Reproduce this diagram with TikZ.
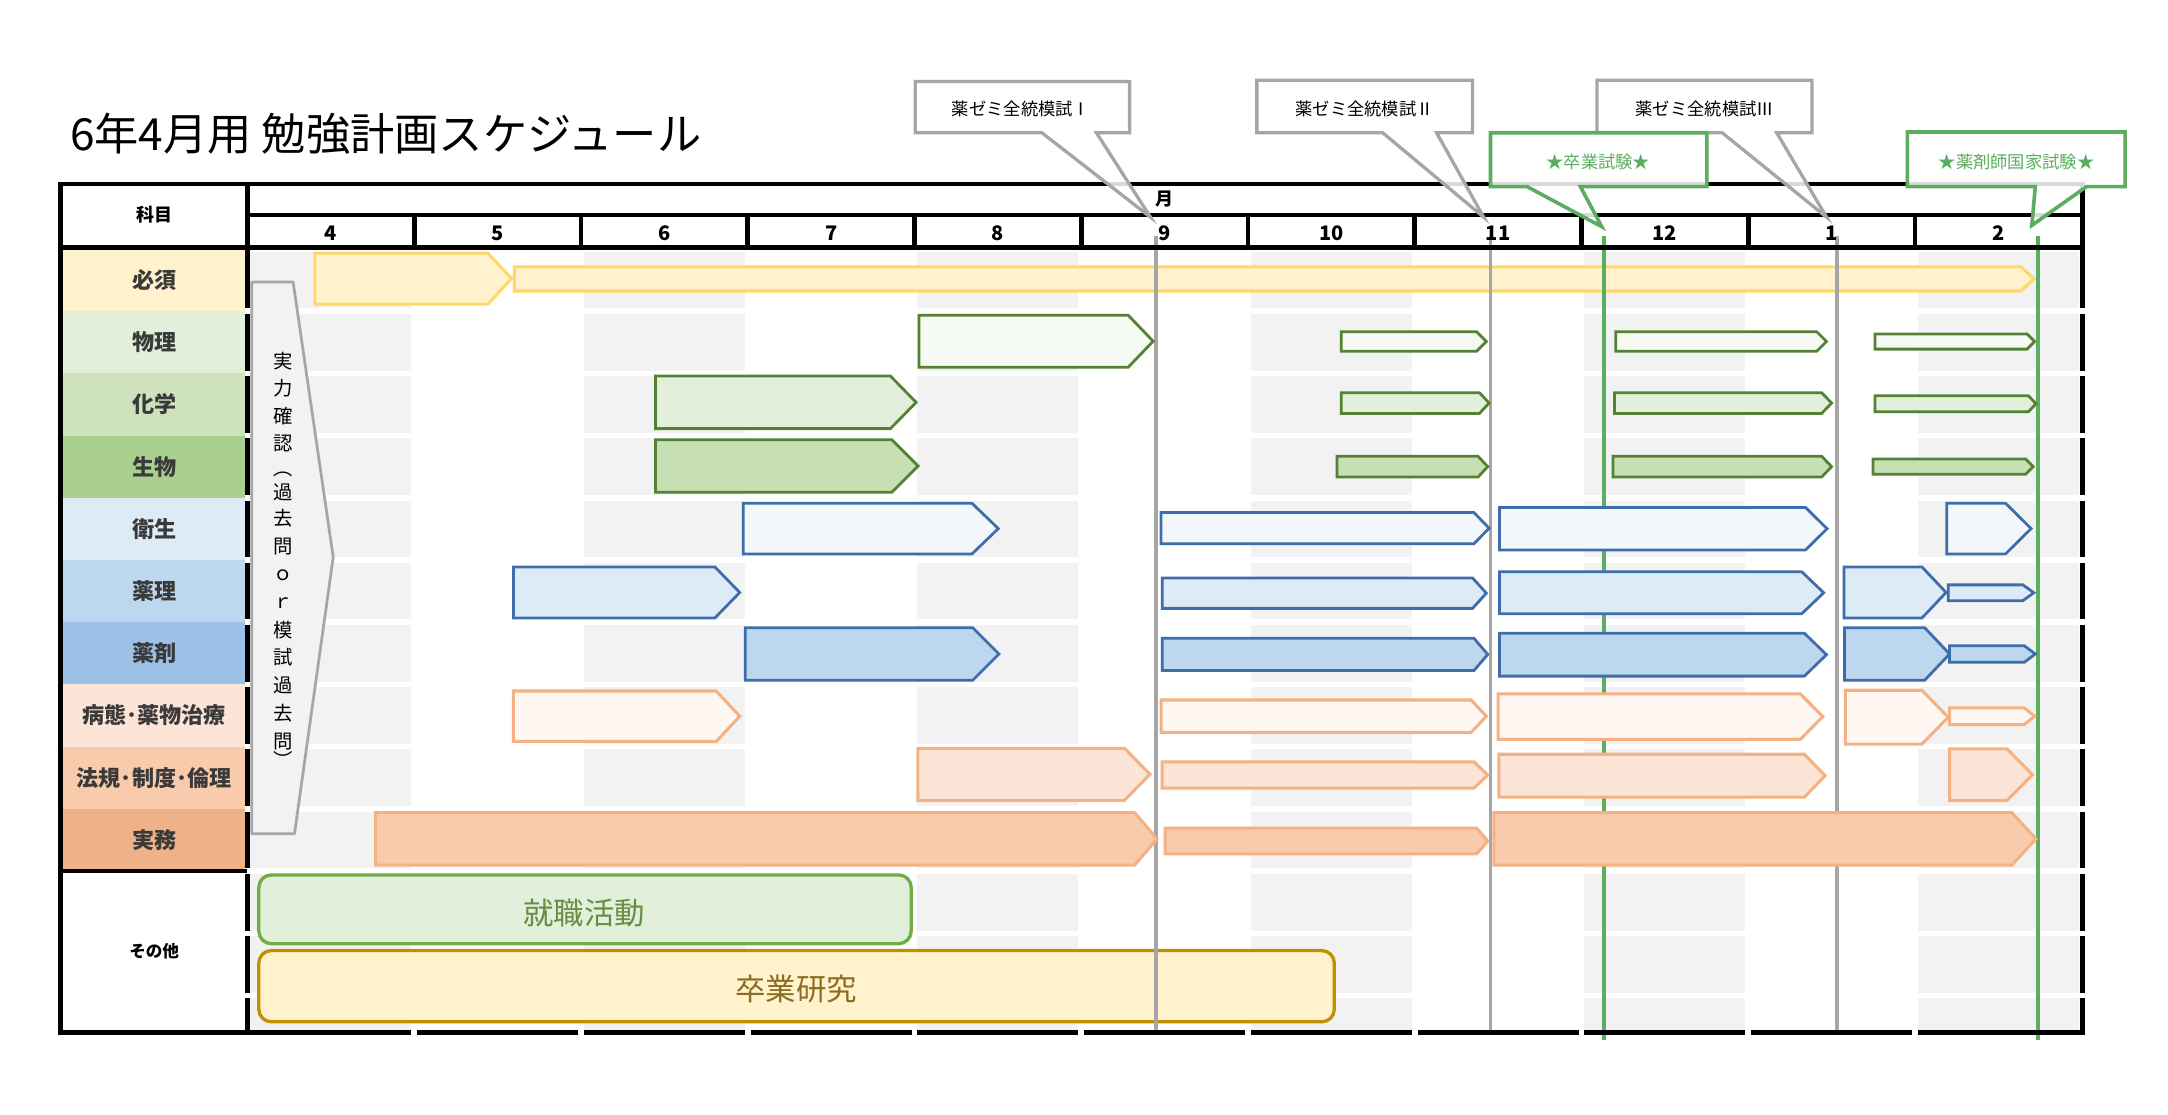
\documentclass[tikz,border=0pt]{standalone}
\usepackage{fontspec}
\setmainfont{Noto Sans CJK JP}
\usepackage{tikz}

\definecolor{cellgrey}{HTML}{F2F2F2}
\definecolor{labtext}{HTML}{3A3A3A}
\definecolor{mgrey}{HTML}{A6A6A6}
\definecolor{mgreen}{HTML}{5BAD5F}
\definecolor{hissuD}{HTML}{FFD966}
\definecolor{hissuF}{HTML}{FFF2CC}
\definecolor{grnD}{HTML}{548235}
\definecolor{butsuriF}{HTML}{F5FAF2}
\definecolor{kagakuF}{HTML}{E2EFDA}
\definecolor{seibutsuF}{HTML}{C6E0B4}
\definecolor{bluD}{HTML}{3E6DAA}
\definecolor{eiseiF}{HTML}{F2F7FC}
\definecolor{yakuriF}{HTML}{DDEBF7}
\definecolor{yakuzaiF}{HTML}{BDD7EE}
\definecolor{orgD}{HTML}{F4B183}
\definecolor{byotaiF}{HTML}{FEF7F2}
\definecolor{hokiF}{HTML}{FBE5D6}
\definecolor{jitsumuF}{HTML}{F8CBAD}
\definecolor{labA}{HTML}{FFF2CC}
\definecolor{labB}{HTML}{E2EFDA}
\definecolor{labC}{HTML}{CDE2BD}
\definecolor{labD}{HTML}{A9D08E}
\definecolor{labE}{HTML}{DDEBF7}
\definecolor{labF}{HTML}{BDD7EE}
\definecolor{labG}{HTML}{9BC2E6}
\definecolor{labH}{HTML}{FCE4D6}
\definecolor{labI}{HTML}{F8CBAD}
\definecolor{labJ}{HTML}{EFB188}
\definecolor{shuD}{HTML}{70AD47}
\definecolor{shuT}{HTML}{668F45}
\definecolor{sotD}{HTML}{BF9000}
\definecolor{sotT}{HTML}{8A6D1F}
\newcommand{\rnum}[1]{{\addfontfeature{CharacterWidth=Full}#1}}

\begin{document}
\begin{tikzpicture}[x=1pt, y=-1pt,
    bd/.style={line width=3.4},
    hissu/.style={draw=hissuD, fill=hissuF, line width=2.2},
    butsuri/.style={draw=grnD, fill=butsuriF, line width=2},
    kagaku/.style={draw=grnD, fill=kagakuF, line width=2},
    seibutsu/.style={draw=grnD, fill=seibutsuF, line width=2},
    eisei/.style={draw=bluD, fill=eiseiF, line width=2},
    yakuri/.style={draw=bluD, fill=yakuriF, line width=2},
    yakuzai/.style={draw=bluD, fill=yakuzaiF, line width=2},
    byotai/.style={draw=orgD, fill=byotaiF, line width=2.2},
    hoki/.style={draw=orgD, fill=hokiF, line width=2.2},
    jitsumu/.style={draw=orgD, fill=jitsumuF, line width=2.2},
    callgrey/.style={draw=mgrey, line width=2.4, fill=white, fill opacity=0.85},
    callgreen/.style={draw=mgreen, line width=2.6, fill=white, fill opacity=0.85},
    mline/.style={line width=2.6},
    lab/.style={inner sep=0, text=labtext, font=\fontsize{16}{16}\selectfont\bfseries},
    hdr/.style={inner sep=0, font=\fontsize{13}{13}\selectfont\bfseries},
    mon/.style={inner sep=0, font=\fontsize{14.5}{14.5}\selectfont\bfseries},
    vtxt/.style={inner sep=0, font=\fontsize{14}{14}\selectfont},
    calltxt/.style={inner sep=0, font=\fontsize{12.5}{12.5}\selectfont},
    bigtxt/.style={inner sep=0, font=\fontsize{22}{22}\selectfont},
  ]

    \useasboundingbox (0,0) rectangle (1568,806);
    \fill[white] (0,0) rectangle (1568,806);

    % grey cells
    \foreach \k in {0,2,4,6,8,10} {
        \foreach \ya/\yb in {180/225, 225/270, 270/315, 315/360, 360/405, 405/450, 450/495, 495/540, 540/585, 585/630, 630/675, 675/720, 720/748} {
            \fill[cellgrey] ({179+120.6*\k+2},\ya+2) rectangle ({179+120.6*(\k+1)-2},\yb-2);
        }
    }

    % subject cells
    \foreach \txt/\col [count=\i from 0] in {必須/labA, 物理/labB, 化学/labC, 生物/labD, 衛生/labE, 薬理/labF, 薬剤/labG, 病態･薬物治療/labH, 法規･制度･倫理/labI, 実務/labJ} {
        \fill[\col] (45.5,{180+45*\i}) rectangle (177.5,{225+45*\i});
        \node[lab] (lab\i) at (111.5,{202.5+45*\i}) {\txt};
    }

    % 必須 bars
    \foreach \xa/\xb/\xt/\yc/\hh in {227.7/370/352.8/201.5/37, 372/1471/1461.6/201.7/17.5} {
        \draw[hissu] (\xa,\yc-\hh/2) -- (\xt,\yc-\hh/2) -- (\xb,\yc) -- (\xt,\yc+\hh/2) -- (\xa,\yc+\hh/2) -- cycle;
    }

    % その他
    \draw[draw=shuD, fill=kagakuF, line width=2.4, rounded corners=9] (187.2,632.8) rectangle (659,682.5);
    \node[bigtxt, text=shuT] (shushoku) at (422.5,660) {就職活動};
    \draw[draw=sotD, fill=hissuF, line width=2.4, rounded corners=9] (187.2,687.5) rectangle (965,739);
    \node[bigtxt, text=sotT] (sotken) at (576,715) {卒業研究};

    % 実力確認
    \draw[draw=mgrey, fill=cellgrey, line width=2, line join=round] (182,204) -- (212,204) -- (241,403) -- (213,603) -- (182,603) -- cycle;
    \foreach \ch/\yy [count=\k] in {実/261, 力/281, 確/301, 認/321, ︵/343, 過/356, 去/375, 問/395.5, ｏ/416, ｒ/436, 模/455.5, 試/475.5, 過/495.5, 去/516, 問/536.5, ︶/549} {
        \node[vtxt] (jk\k) at (204.8,\yy) {\ch};
    }

    % milestone lines
    \foreach \x/\c/\ye in {836/mgrey/748.6, 1078/mgrey/748.6, 1328.5/mgrey/748.6, 1160/mgreen/752, 1474/mgreen/752} {
        \draw[mline, \c] (\x,171) -- (\x,\ye);
    }

    % study bars
    \foreach \xa/\xb/\xt/\yc/\hh/\st in {
        664.6/834/816/246.8/37.5/butsuri, 970/1075/1068/247/14/butsuri, 1168.6/1321/1314/247/14/butsuri, 1356/1471.5/1466/247/11/butsuri,
        474/662.6/644/291/38/kagaku, 970/1077/1070/291.5/15/kagaku, 1167.7/1324.7/1317.5/291.5/15/kagaku, 1356/1472.5/1467/292/11.7/kagaku,
        474/664/645/337/38/seibutsu, 967/1076/1069/337.5/15/seibutsu, 1166.6/1324.7/1317.5/337.5/15/seibutsu, 1354.7/1470.5/1465/337.5/11/seibutsu,
        537.5/722/703/382.3/36.6/eisei, 839.7/1077/1066/382/22.6/eisei, 1084.5/1321.4/1305.8/382.4/30.8/eisei, 1408/1469/1450.5/382.3/36.6/eisei,
        371.4/535/517/428.5/37/yakuri, 840.5/1075/1065/429/22/yakuri, 1084.5/1319/1303/428.7/30.5/yakuri, 1333.6/1407.5/1390/428.5/37/yakuri, 1409/1471/1463/428.7/11.4/yakuri,
        539/722.5/703.5/473/38/yakuzai, 840.5/1076/1066/473.3/23.4/yakuzai, 1084.5/1321/1305/473.5/31/yakuzai, 1334/1410/1392/473/38/yakuzai, 1410/1472/1464/473/12/yakuzai,
        371.3/535/518/518/36.5/byotai, 839.7/1075/1064/518/23.5/byotai, 1083.5/1318.4/1302/518.3/33/byotai, 1334.6/1409/1390/518.7/39/byotai, 1410/1471.5/1464/518/12/byotai,
        663.8/831.7/813.3/560/37.6/hoki, 840.5/1076/1066/560.5/19/hoki, 1084/1320/1305/561/31/hoki, 1410/1470/1451.6/560.3/37.3/hoki,
        271.7/836.8/820.6/606.7/38/jitsumu, 842.6/1076/1068/608.3/18.6/jitsumu, 1080.5/1472.5/1455/606.7/38/jitsumu} {
        \draw[\st] (\xa,\yc-\hh/2) -- (\xt,\yc-\hh/2) -- (\xb,\yc) -- (\xt,\yc+\hh/2) -- (\xa,\yc+\hh/2) -- cycle;
    }

    % table borders
    \draw[bd, line cap=rect] (44,133) -- (1506,133); % top
    \draw[bd, line cap=rect] (44,133) -- (44,746.5); % left
    \draw[bd, line cap=rect] (44,746.5) -- (179,746.5);
    \draw[bd] (179,155.6) -- (1506,155.6);
    \draw[bd] (44,179) -- (1506,179);
    \draw[bd] (44,630) -- (179,630);
    \draw[bd] (179,133) -- (179,181);
    \draw[bd] (1506,133) -- (1506,181);
    \foreach \k in {1,...,10} {
        \draw[bd] ({179+120.6*\k},155.6) -- ({179+120.6*\k},179);
    }
    \foreach \ya/\yb in {179/225, 225/270, 270/315, 315/360, 360/405, 405/450, 450/495, 495/540, 540/585, 585/630, 630/675, 675/720, 720/750} {
        \draw[bd] (179,\ya+2) -- (179,\yb-2);
        \draw[bd] (1506,\ya+2) -- (1506,\yb-2);
    }
    \foreach \k in {0,...,10} {
        \draw[bd] ({179+120.6*\k+2},746.5) -- ({179+120.6*(\k+1)-2},746.5);
    }
    \draw[bd] (1500,746.5) -- (1507.7,746.5);

    % header texts
    \node[hdr] (kamoku) at (111.5,155.5) {科目};
    \node[hdr] (tsuki) at (842.5,144) {月};
    \foreach \m [count=\k from 0] in {4,5,6,7,8,9,10,11,12,1,2} {
        \node[mon] (mon\k) at ({179+120.6*(\k+0.5)},168.5) {\m};
    }
    \node[inner sep=0, font=\fontsize{12}{12}\selectfont\bfseries] (sonota) at (111.5,688) {その他};

    % title
    \node[inner sep=0, anchor=west, font=\fontsize{32}{32}\selectfont] (title) at (50.5,96.5) {6年4月用 勉強計画スケジュール};

    % callouts
    \foreach \xl/\xr/\yt/\yb/\ba/\bb/\tx/\ty/\st in {
        662/817/59/96/753.5/793/832/157/callgrey,
        909/1065/58/96/1000/1039/1073/157/callgrey,
        1155/1310.5/58/96/1245.5/1285/1321/157/callgrey,
        1078/1234.5/96/135/1104.5/1143/1158.5/164/callgreen,
        1379.5/1537/95.5/135/1472/1509/1469.5/163/callgreen} {
        \draw[\st] (\xl,\yt) -- (\xr,\yt) -- (\xr,\yb) -- (\bb,\yb) -- (\tx,\ty) -- (\ba,\yb) -- (\xl,\yb) -- cycle;
    }
    \node[calltxt] (moshi1) at (738.5,79) {薬ゼミ全統模試\rnum{Ⅰ}};
    \node[calltxt] (moshi2) at (987,79) {薬ゼミ全統模試\rnum{Ⅱ}};
    \node[calltxt] (moshi3) at (1233,79) {薬ゼミ全統模試\rnum{Ⅲ}};
    \node[calltxt, text=mgreen] (sotsushi) at (1156,117) {★卒業試験★};
    \node[calltxt, text=mgreen] (kokushi) at (1458.5,117) {★薬剤師国家試験★};

\end{tikzpicture}
\end{document}
